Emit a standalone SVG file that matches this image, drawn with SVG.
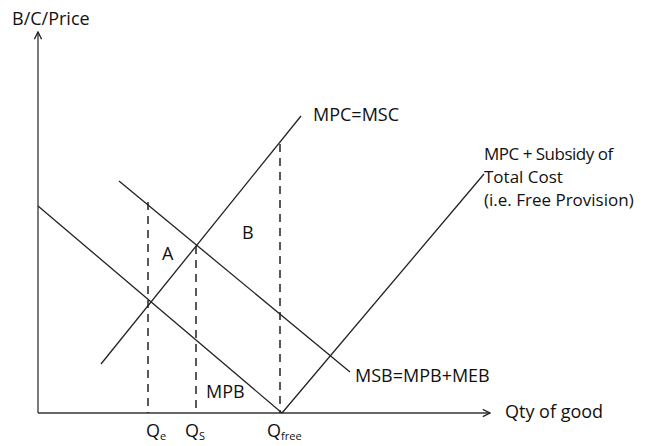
<svg xmlns="http://www.w3.org/2000/svg" width="649" height="446" viewBox="0 0 649 446">
<defs>
<marker id="arr" viewBox="0 0 10 10" refX="9" refY="5" markerWidth="9" markerHeight="9" orient="auto" markerUnits="userSpaceOnUse">
<path d="M1,1 L9,5 L1,9" fill="none" stroke="#222" stroke-width="1.5"/>
</marker>
</defs>
<style>
text{font-family:"Open Sans","Liberation Sans",sans-serif;fill:#111;font-size:18px}
.note{font-size:17px}
.axis{stroke:#333;stroke-width:1.3;fill:none}
.curve{stroke:#222;stroke-width:1.3;fill:none}
.dash{stroke:#222;stroke-width:1.5;stroke-dasharray:8,6;fill:none}
.sub{font-size:11px}
</style>
<rect width="649" height="446" fill="#fff"/>
<g id="connectors">
<line id="y-axis" class="axis" x1="38" y1="413" x2="38" y2="32" marker-end="url(#arr)"/>
<line id="x-axis" class="axis" x1="38" y1="413" x2="490" y2="413" marker-end="url(#arr)"/>
<line id="mpb" class="curve" x1="38" y1="206" x2="282" y2="413"/>
<line id="msb" class="curve" x1="119" y1="181" x2="350" y2="372"/>
<line id="mpc" class="curve" x1="101" y1="364" x2="301" y2="116"/>
<line id="subsidy" class="curve" x1="282" y1="413" x2="484" y2="174"/>
<line id="qe-dash" class="dash" x1="148" y1="202" x2="148" y2="413"/>
<line id="qs-dash" class="dash" x1="196" y1="246" x2="196" y2="413"/>
<line id="qfree-dash" class="dash" x1="280" y1="144" x2="280" y2="413"/>
</g>
<g id="label-yaxis"><text x="12" y="25">B/C/Price</text></g>
<g id="label-xaxis"><text x="505" y="418">Qty of good</text></g>
<g id="label-mpc"><text x="313" y="121">MPC=MSC</text></g>
<g id="label-subsidy">
<text class="note" x="484" y="160" letter-spacing="-0.5">MPC + Subsidy of</text>
<text class="note" x="484" y="183">Total Cost</text>
<text class="note" x="484" y="206">(i.e. Free Provision)</text>
</g>
<g id="label-msb"><text x="355" y="382">MSB=MPB+MEB</text></g>
<g id="label-mpb"><text x="206" y="398">MPB</text></g>
<g id="label-a"><text x="162" y="260">A</text></g>
<g id="label-b"><text x="242" y="239">B</text></g>
<g id="label-qe"><text x="146" y="437">Q<tspan class="sub" dy="3">e</tspan></text></g>
<g id="label-qs"><text x="185" y="437">Q<tspan class="sub" dy="3">S</tspan></text></g>
<g id="label-qfree"><text x="267" y="437">Q<tspan class="sub" dy="3">free</tspan></text></g>
</svg>
